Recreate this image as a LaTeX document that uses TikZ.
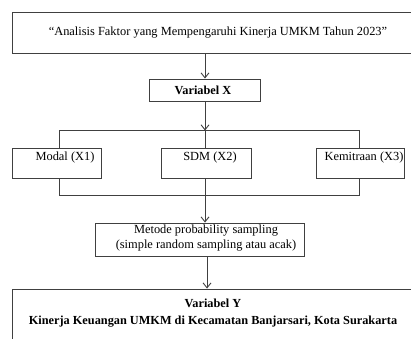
\documentclass[tikz,border=0pt]{standalone}
\usepackage{fontspec}
\setmainfont{Liberation Serif}
\usetikzlibrary{arrows.meta}
\definecolor{linec}{HTML}{404040}
\begin{document}
\begin{tikzpicture}[x=1pt,y=-1pt,
  box/.style 2 args={draw=linec, line width=0.9pt, inner sep=0pt, minimum width=#1, minimum height=#2},
  txt/.style={inner sep=0pt, font=\fontsize{12.4}{15}\selectfont, text=black, align=center},
  btxt/.style={txt, font=\fontsize{12.3}{17.5}\selectfont\bfseries},
  conn/.style={draw=linec, line width=0.9pt},
  arr/.style={conn, -{Straight Barb[length=5pt,width=8pt,line width=0.9pt]}}]
\clip (0,0) rectangle (411,338);
\fill[white] (0,0) rectangle (411,338);
% boxes
\node[box={412pt}{41pt}] (top) at (218,32.5) {};
\node[box={111pt}{22pt}] (vx) at (204.5,90) {};
\node[box={89pt}{30pt}] (m1) at (56.5,163) {};
\node[box={90pt}{30pt}] (m2) at (206,163) {};
\node[box={88pt}{30pt}] (m3) at (360,163) {};
\node[box={209pt}{33pt}] (met) at (199.5,239.5) {};
\node[box={412pt}{62pt}] (bot) at (218,320) {};
% texts
\node[txt] (ttop) at (218,33) {``Analisis Faktor yang Mempengaruhi Kinerja UMKM Tahun 2023''};
\node[btxt] (tvx) at (203,90) {Variabel X};
\node[txt] (tm1) at (65,157.5) {Modal (X1)};
\node[txt] (tm2) at (210,157.5) {SDM (X2)};
\node[txt] (tm3) at (364,157.5) {Kemitraan (X3)};
\node[txt] (tmet) at (206,238.5) {Metode probability sampling\\(simple random sampling atau acak)};
\node[btxt, anchor=north] (tbot) at (213,298.5) {Variabel Y\\Kinerja Keuangan UMKM di Kecamatan Banjarsari, Kota Surakarta};
% junction coordinates
\coordinate (j1) at (205,130.5);
\coordinate (j1l) at (59,130.5);
\coordinate (j1r) at (359,130.5);
\coordinate (j2) at (205,195);
\coordinate (j2l) at (59,195);
\coordinate (j2r) at (359,195);
% connectors
\draw[arr] (top.south -| 205,0) -- (vx.north -| 205,0);
\draw[arr] (vx.south -| 205,0) -- (j1);
\draw[conn] (j1l |- m1.north) -- (j1l) -- (j1r) -- (j1r |- m3.north);
\draw[conn] (j1) -- (j1 |- m2.north);
\draw[conn] (j2l |- m1.south) -- (j2l) -- (j2r) -- (j2r |- m3.south);
\draw[conn] (j2 |- m2.south) -- (j2);
\draw[arr] (j2) -- (j2 |- met.north);
\draw[arr] (met.south -| 207,0) -- (bot.north -| 207,0);
\end{tikzpicture}
\end{document}
